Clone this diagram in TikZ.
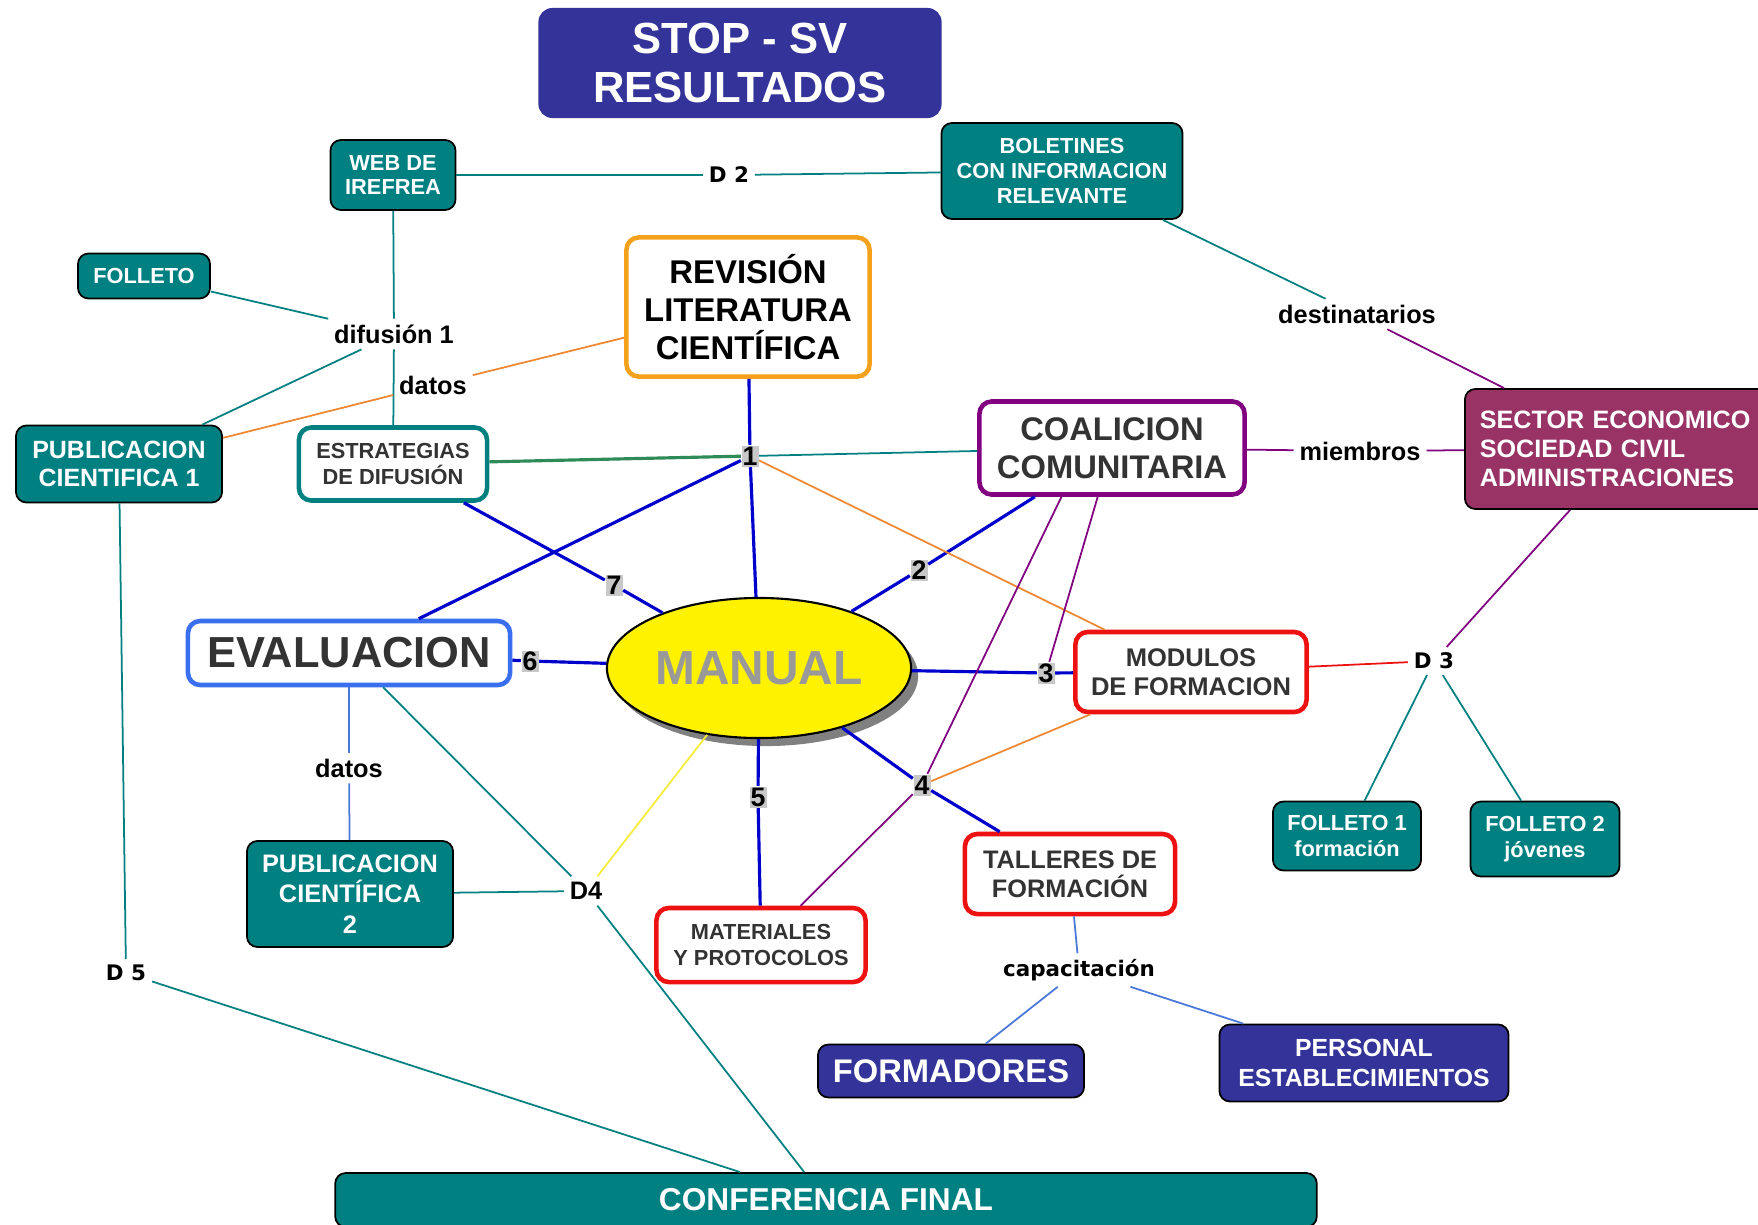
\documentclass[tikz,border=0pt]{standalone}
\usepackage{fontspec}
\setmainfont{Liberation Sans}
\newfontfamily\dvsans{DejaVu Sans}
\usetikzlibrary{shapes.geometric,shadows}
\newcommand\fsz[2]{\fontsize{#1}{#2}\selectfont}
\definecolor{cmteal}{HTML}{008080}
\definecolor{cmnavy}{HTML}{333399}
\definecolor{cmplum}{HTML}{993366}
\definecolor{cmorange}{HTML}{F5A11C}
\definecolor{cmpurple}{HTML}{800080}
\definecolor{cmred}{HTML}{EE1111}
\definecolor{cmblue}{HTML}{3A6FF0}
\definecolor{lnblue}{HTML}{0000CC}
\definecolor{lnorange}{HTML}{EE8833}
\definecolor{lngreen}{HTML}{2E8B57}
\definecolor{lnyellow}{HTML}{F4EC3A}
\definecolor{lnsky}{HTML}{4A78D8}
\definecolor{txtgray}{HTML}{333333}
\definecolor{mangray}{HTML}{999999}
\definecolor{markgray}{HTML}{C8C8C8}

\begin{document}
\begin{tikzpicture}[x=0.01cm,y=-0.01cm,
    tealbox/.style={draw=black,fill=cmteal,text=white,rounded corners=3pt,line width=0.5pt,align=center,inner sep=1pt},
    navybox/.style={draw=black,fill=cmnavy,text=white,rounded corners=3pt,line width=0.5pt,align=center,inner sep=1pt},
    framebox/.style={draw=#1,fill=white,text=txtgray,rounded corners=3.5pt,line width=1.3pt,align=center,inner sep=1pt},
    linkp/.style={font=\fsz{7.2}{8.5}\bfseries,inner sep=1.5pt},
    linkq/.style={font=\dvsans\fsz{6.1}{7}\bfseries,inner sep=1.5pt},
    numtag/.style={fill=markgray,font=\fsz{7.6}{8}\bfseries,inner sep=0pt,minimum width=1.7mm,minimum height=2.1mm},
    blueln/.style={draw=lnblue,line width=0.9pt},
    tealln/.style={draw=cmteal,line width=0.5pt},
    greenln/.style={draw=lngreen,line width=0.9pt},
    orangeln/.style={draw=lnorange,line width=0.5pt},
    purpln/.style={draw=cmpurple,line width=0.5pt},
    redln/.style={draw=cmred,line width=0.5pt},
    yellowln/.style={draw=lnyellow,line width=0.5pt},
    skyln/.style={draw=lnsky,line width=0.5pt}]
  \useasboundingbox (0,0) rectangle (1758,1224);
  \fill[white] (0,0) rectangle (1758,1224);

  \node[navybox,draw=none,rounded corners=4pt,minimum width=40.3mm,minimum height=11mm,font=\fsz{12.4}{14.2}\bfseries] (title) at (740,63) {STOP - SV\\RESULTADOS};
  \node[tealbox,minimum width=12.5mm,minimum height=7mm,font=\fsz{6.2}{7}\bfseries] (web) at (393,175) {WEB DE\\IREFREA};
  \node[tealbox,minimum width=24.1mm,minimum height=9.6mm,font=\fsz{6.2}{7.1}\bfseries] (bol) at (1062,171) {BOLETINES\\CON INFORMACION\\RELEVANTE};
  \node[tealbox,minimum width=13.2mm,minimum height=4.5mm,font=\fsz{6.2}{7}\bfseries] (fol) at (144,276) {FOLLETO};
  \node[framebox=cmorange,text=black,minimum width=24.3mm,minimum height=13.9mm,font=\fsz{9.35}{10.8}\bfseries] (rev) at (748,307) {REVISIÓN\\LITERATURA\\CIENTÍFICA};
  \node[tealbox,minimum width=20.6mm,minimum height=7.7mm,font=\fsz{7.1}{8}\bfseries] (pubA) at (119,464) {PUBLICACION\\CIENTIFICA 1};
  \node[framebox=cmteal,minimum width=18.8mm,minimum height=7.3mm,font=\fsz{6.2}{7.3}\bfseries] (estr) at (393,464) {ESTRATEGIAS\\DE DIFUSIÓN};
  \node[framebox=cmpurple,minimum width=26.5mm,minimum height=9.3mm,font=\fsz{9.3}{10.8}\bfseries] (coal) at (1112,448) {COALICION\\COMUNITARIA};
  \node[tealbox,fill=cmplum,align=left,text width=29mm,inner xsep=1.5mm,minimum height=12mm,anchor=west,font=\fsz{7.15}{8.3}\bfseries] (sect) at (1464,449) {SECTOR ECONOMICO\\SOCIEDAD CIVIL\\ADMINISTRACIONES};
  \node[framebox=cmblue,minimum width=32.2mm,minimum height=6.4mm,font=\fsz{12.35}{14}\bfseries] (eval) at (349,653) {EVALUACION};
  \node[ellipse,draw=black,fill=yellow,line width=0.6pt,minimum width=30.4mm,minimum height=14mm,inner sep=0pt,text=mangray,font=\fsz{13.6}{15}\bfseries,drop shadow={shadow xshift=0.7mm,shadow yshift=-0.8mm,fill=gray,opacity=1}] (man) at (759,668) {MANUAL};
  \node[framebox=cmred,minimum width=23.1mm,minimum height=8mm,font=\fsz{7.26}{8.25}\bfseries] (mod) at (1191,672) {MODULOS\\DE FORMACION};
  \node[framebox=cmred,minimum width=21mm,minimum height=8mm,font=\fsz{7.2}{8.3}\bfseries] (tall) at (1070,874) {TALLERES DE\\FORMACIÓN};
  \node[framebox=cmred,minimum width=20.9mm,minimum height=7.4mm,font=\fsz{6.2}{7.3}\bfseries] (mat) at (761,945) {MATERIALES\\Y PROTOCOLOS};
  \node[tealbox,minimum width=20.6mm,minimum height=10.6mm,font=\fsz{7.2}{8.6}\bfseries] (pubB) at (350,894) {PUBLICACION\\CIENTÍFICA\\2};
  \node[tealbox,minimum width=14.8mm,minimum height=6.9mm,font=\fsz{6.2}{7.3}\bfseries] (folA) at (1347,836) {FOLLETO 1\\formación};
  \node[tealbox,minimum width=14.9mm,minimum height=7.5mm,font=\fsz{6.2}{7.3}\bfseries] (folB) at (1545,839) {FOLLETO 2\\jóvenes};
  \node[navybox,minimum width=26.6mm,minimum height=5.3mm,font=\fsz{9.3}{10}\bfseries] (form) at (951,1071) {FORMADORES};
  \node[navybox,minimum width=28.9mm,minimum height=7.7mm,font=\fsz{7.05}{8.3}\bfseries] (pers) at (1364,1063) {PERSONAL\\ESTABLECIMIENTOS};
  \node[tealbox,minimum width=98.1mm,minimum height=5.4mm,font=\fsz{9}{10}\bfseries] (conf) at (826,1200) {CONFERENCIA FINAL};

  \node[linkq] (dB) at (729,175) {D 2};
  \node[linkp] (dif) at (394,334) {difusión 1};
  \node[linkp] (datA) at (433,385) {datos};
  \node[linkp] (dest) at (1357,314) {destinatarios};
  \node[linkp] (memb) at (1360,451) {miembros};
  \node[linkp] (datB) at (349,768) {datos};
  \node[linkp] (dD) at (586,891) {D4};
  \node[linkq] (dE) at (126,973) {D 5};
  \node[linkq] (dC) at (1434,661) {D 3};
  \node[linkq] (cap) at (1079,970) {capacitación};

  \node[numtag] (n1) at (750,456) {1};
  \node[numtag] (n2) at (919,570) {2};
  \node[numtag] (n3) at (1046,673) {3};
  \node[numtag] (n4) at (922,785) {4};
  \node[numtag] (n5) at (758,797) {5};
  \node[numtag] (n6) at (530,661) {6};
  \node[numtag] (n7) at (614,585) {7};

  \draw[blueln] (rev) -- (n1);
  \draw[blueln] (n1) -- (man);
  \draw[blueln] (n1) -- (eval);
  \draw[blueln] (estr) -- (n7);
  \draw[blueln] (n7) -- (man);
  \draw[blueln] (coal) -- (n2);
  \draw[blueln] (n2) -- (man);
  \draw[blueln] (man) -- (n3);
  \draw[blueln] (n3) -- (mod);
  \draw[blueln] (man) -- (n4);
  \draw[blueln] (n4) -- (tall);
  \draw[blueln] (man) -- (n5);
  \draw[blueln] (n5) -- (mat);
  \draw[blueln] (eval) -- (n6);
  \draw[blueln] (n6) -- (man);

  \draw[tealln] (web) -- (dB);
  \draw[tealln] (dB) -- (bol);
  \draw[tealln] (bol) -- (dest);
  \draw[purpln] (dest) -- (sect);
  \draw[tealln] (web) -- (dif);
  \draw[tealln] (dif) -- (estr);
  \draw[tealln] (fol) -- (dif);
  \draw[tealln] (dif) -- (pubA);
  \draw[orangeln] (rev) -- (datA);
  \draw[orangeln] (datA) -- (pubA);
  \draw[greenln] (estr) -- (n1);
  \draw[tealln] (n1) -- (coal);
  \draw[orangeln] (n1) -- (mod);
  \draw[purpln] (coal) -- (memb);
  \draw[purpln] (memb) -- (sect);
  \draw[purpln] (coal.224) -- (n4);
  \draw[purpln] (n4) -- (mat);
  \draw[purpln] (coal) -- (n3);
  \draw[orangeln] (mod) -- (n4);
  \draw[yellowln] (man) -- (dD);
  \draw[tealln] (eval) -- (dD);
  \draw[tealln] (pubB) -- (dD);
  \draw[tealln] (dD) -- (conf.128);
  \draw[skyln] (eval) -- (datB);
  \draw[skyln] (datB) -- (pubB);
  \draw[tealln] (pubA) -- (dE);
  \draw[tealln] (dE) -- (conf.162);
  \draw[redln] (mod) -- (dC);
  \draw[tealln] (dC) -- (folA);
  \draw[tealln] (dC) -- (folB);
  \draw[purpln] (dC) -- (sect);
  \draw[skyln] (tall) -- (cap);
  \draw[skyln] (cap) -- (form);
  \draw[skyln] (cap) -- (pers);
\end{tikzpicture}
\end{document}
